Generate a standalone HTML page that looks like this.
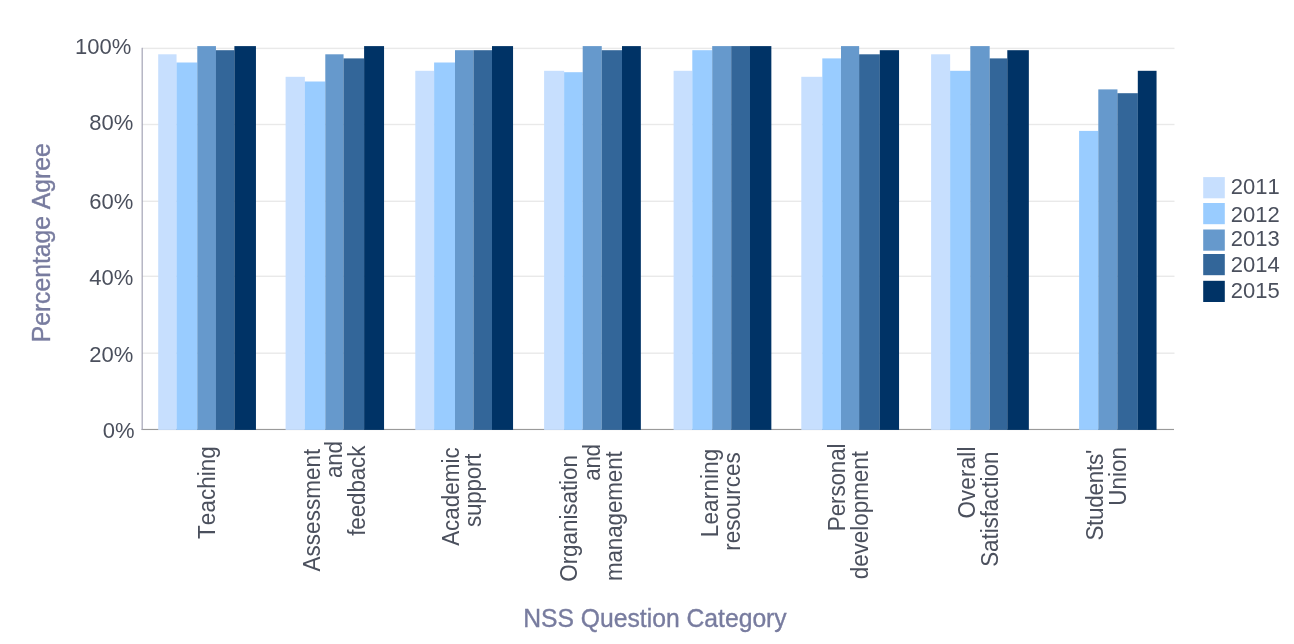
<!DOCTYPE html>
<html><head><meta charset="utf-8"><title>NSS chart</title>
<style>
html,body{margin:0;padding:0;background:#fff;}
body{width:1294px;height:644px;overflow:hidden;}
svg{display:block;will-change:transform;}
text{font-family:"Liberation Sans",sans-serif;font-kerning:none;}
.t{font-size:22px;fill:#4b505d;}
.x{font-size:22.4px;fill:#4b505d;}
.ti{font-size:24.7px;fill:#787c9f;stroke:#787c9f;stroke-width:0.35px;}
</style></head><body>
<svg width="1294" height="644" viewBox="0 0 1294 644">
<rect x="0" y="0" width="1294" height="644" fill="#ffffff"/>

<rect x="142" y="47.70" width="1032.5" height="1.4" fill="#e9e9e9"/>
<rect x="142" y="123.80" width="1032.5" height="1.4" fill="#e9e9e9"/>
<rect x="142" y="200.60" width="1032.5" height="1.4" fill="#e9e9e9"/>
<rect x="142" y="275.60" width="1032.5" height="1.4" fill="#e9e9e9"/>
<rect x="142" y="352.50" width="1032.5" height="1.4" fill="#e9e9e9"/>
<rect x="141.6" y="428.9" width="1032.4" height="1.15" fill="#9a9a9a"/>
<rect x="141.6" y="47.8" width="1.15" height="382.2" fill="#a0a0b2"/>
<rect x="158.20" y="54.30" width="18.35" height="375.60" fill="#c7dffe"/>
<rect x="176.50" y="62.50" width="20.85" height="367.40" fill="#99ccff"/>
<rect x="197.30" y="46.10" width="18.65" height="383.80" fill="#6699cc"/>
<rect x="215.90" y="50.20" width="18.55" height="379.70" fill="#336699"/>
<rect x="234.40" y="46.10" width="21.55" height="383.80" fill="#003366"/>
<rect x="285.60" y="76.80" width="19.25" height="353.10" fill="#c7dffe"/>
<rect x="304.80" y="81.50" width="20.55" height="348.40" fill="#99ccff"/>
<rect x="325.30" y="54.30" width="18.25" height="375.60" fill="#6699cc"/>
<rect x="343.50" y="58.40" width="20.65" height="371.50" fill="#336699"/>
<rect x="364.10" y="46.10" width="19.95" height="383.80" fill="#003366"/>
<rect x="415.30" y="70.80" width="18.85" height="359.10" fill="#c7dffe"/>
<rect x="434.10" y="62.50" width="20.95" height="367.40" fill="#99ccff"/>
<rect x="455.00" y="50.20" width="18.55" height="379.70" fill="#6699cc"/>
<rect x="473.50" y="50.20" width="18.55" height="379.70" fill="#336699"/>
<rect x="492.00" y="46.10" width="21.05" height="383.80" fill="#003366"/>
<rect x="544.10" y="70.80" width="20.05" height="359.10" fill="#c7dffe"/>
<rect x="564.10" y="72.20" width="18.65" height="357.70" fill="#99ccff"/>
<rect x="582.70" y="46.10" width="19.05" height="383.80" fill="#6699cc"/>
<rect x="601.70" y="50.20" width="20.35" height="379.70" fill="#336699"/>
<rect x="622.00" y="46.10" width="18.85" height="383.80" fill="#003366"/>
<rect x="673.60" y="70.80" width="18.75" height="359.10" fill="#c7dffe"/>
<rect x="692.30" y="50.20" width="19.95" height="379.70" fill="#99ccff"/>
<rect x="712.20" y="46.10" width="19.05" height="383.80" fill="#6699cc"/>
<rect x="731.20" y="46.10" width="18.85" height="383.80" fill="#336699"/>
<rect x="750.00" y="46.10" width="21.35" height="383.80" fill="#003366"/>
<rect x="801.30" y="76.80" width="21.05" height="353.10" fill="#c7dffe"/>
<rect x="822.30" y="58.40" width="18.75" height="371.50" fill="#99ccff"/>
<rect x="841.00" y="46.10" width="18.15" height="383.80" fill="#6699cc"/>
<rect x="859.10" y="54.30" width="20.75" height="375.60" fill="#336699"/>
<rect x="879.80" y="50.20" width="19.25" height="379.70" fill="#003366"/>
<rect x="931.10" y="54.30" width="19.05" height="375.60" fill="#c7dffe"/>
<rect x="950.10" y="70.80" width="20.25" height="359.10" fill="#99ccff"/>
<rect x="970.30" y="46.10" width="19.35" height="383.80" fill="#6699cc"/>
<rect x="989.60" y="58.40" width="17.75" height="371.50" fill="#336699"/>
<rect x="1007.30" y="50.20" width="21.55" height="379.70" fill="#003366"/>
<rect x="1079.10" y="130.90" width="19.25" height="299.00" fill="#99ccff"/>
<rect x="1098.30" y="89.40" width="19.15" height="340.50" fill="#6699cc"/>
<rect x="1117.40" y="93.20" width="20.45" height="336.70" fill="#336699"/>
<rect x="1137.80" y="70.80" width="18.75" height="359.10" fill="#003366"/>
<text class="t" transform="translate(131.2,54.2) scale(1,1.030)" text-anchor="end">100%</text>
<text class="t" transform="translate(133.2,130.3) scale(1,1.030)" text-anchor="end">80%</text>
<text class="t" transform="translate(133.2,208.5) scale(1,1.030)" text-anchor="end">60%</text>
<text class="t" transform="translate(133.2,285.3) scale(1,1.030)" text-anchor="end">40%</text>
<text class="t" transform="translate(133.2,362.2) scale(1,1.030)" text-anchor="end">20%</text>
<text class="t" transform="translate(134.5,438.3) scale(1,1.030)" text-anchor="end">0%</text>
<rect x="1203.2" y="177.1" width="21.6" height="21.2" fill="#c7dffe"/>
<text class="t" transform="translate(1230.8,194.1) scale(1,1.030)">2011</text>
<rect x="1203.2" y="203.0" width="21.6" height="21.2" fill="#99ccff"/>
<text class="t" transform="translate(1230.8,221.6) scale(1,1.030)">2012</text>
<rect x="1203.2" y="229.5" width="21.6" height="21.2" fill="#6699cc"/>
<text class="t" transform="translate(1230.8,245.8) scale(1,1.030)">2013</text>
<rect x="1203.2" y="254.0" width="21.6" height="21.2" fill="#336699"/>
<text class="t" transform="translate(1230.8,272.2) scale(1,1.030)">2014</text>
<rect x="1203.2" y="280.8" width="21.6" height="21.2" fill="#003366"/>
<text class="t" transform="translate(1230.8,297.8) scale(1,1.030)">2015</text>
<text class="x" transform="translate(215.2,446.1) rotate(-90) scale(1,1.030)" text-anchor="end" style="letter-spacing:0.095px">Teaching</text>
<text class="x" transform="translate(319.8,448.6) rotate(-90) scale(1,1.030)" text-anchor="end" style="letter-spacing:0.103px">Assessment</text>
<text class="x" transform="translate(341.9,441.4) rotate(-90) scale(1,1.030)" text-anchor="end" style="letter-spacing:-0.250px">and</text>
<text class="x" transform="translate(365.0,445.7) rotate(-90) scale(1,1.030)" text-anchor="end" style="letter-spacing:-0.098px">feedback</text>
<text class="x" transform="translate(459.2,447.4) rotate(-90) scale(1,1.030)" text-anchor="end" style="letter-spacing:0.020px">Academic</text>
<text class="x" transform="translate(481.1,453.8) rotate(-90) scale(1,1.030)" text-anchor="end" style="letter-spacing:-0.206px">support</text>
<text class="x" transform="translate(577.0,455.1) rotate(-90) scale(1,1.030)" text-anchor="end" style="letter-spacing:-0.027px">Organisation</text>
<text class="x" transform="translate(600.1,444.2) rotate(-90) scale(1,1.030)" text-anchor="end" style="letter-spacing:-0.250px">and</text>
<text class="x" transform="translate(622.4,451.3) rotate(-90) scale(1,1.030)" text-anchor="end" style="letter-spacing:-0.086px">management</text>
<text class="x" transform="translate(717.8,448.5) rotate(-90) scale(1,1.030)" text-anchor="end" style="letter-spacing:0.198px">Learning</text>
<text class="x" transform="translate(740.1,452.2) rotate(-90) scale(1,1.030)" text-anchor="end" style="letter-spacing:0.042px">resources</text>
<text class="x" transform="translate(845.2,443.6) rotate(-90) scale(1,1.030)" text-anchor="end" style="letter-spacing:-0.098px">Personal</text>
<text class="x" transform="translate(868.3,451.1) rotate(-90) scale(1,1.030)" text-anchor="end" style="letter-spacing:-0.006px">development</text>
<text class="x" transform="translate(975.2,446.4) rotate(-90) scale(1,1.030)" text-anchor="end" style="letter-spacing:0.189px">Overall</text>
<text class="x" transform="translate(997.6,451.7) rotate(-90) scale(1,1.030)" text-anchor="end" style="letter-spacing:-0.048px">Satisfaction</text>
<text class="x" transform="translate(1102.6,450.0) rotate(-90) scale(1,1.030)" text-anchor="end" style="letter-spacing:-0.223px">Students'</text>
<text class="x" transform="translate(1125.8,446.9) rotate(-90) scale(1,1.030)" text-anchor="end" style="letter-spacing:0.054px">Union</text>
<text class="ti" transform="translate(49.5,342.3) rotate(-90) scale(1,1.030)">Percentage Agree</text>
<text class="ti" transform="translate(523.2,627.1) scale(1,1.030)">NSS Question Category</text>
</svg></body></html>
